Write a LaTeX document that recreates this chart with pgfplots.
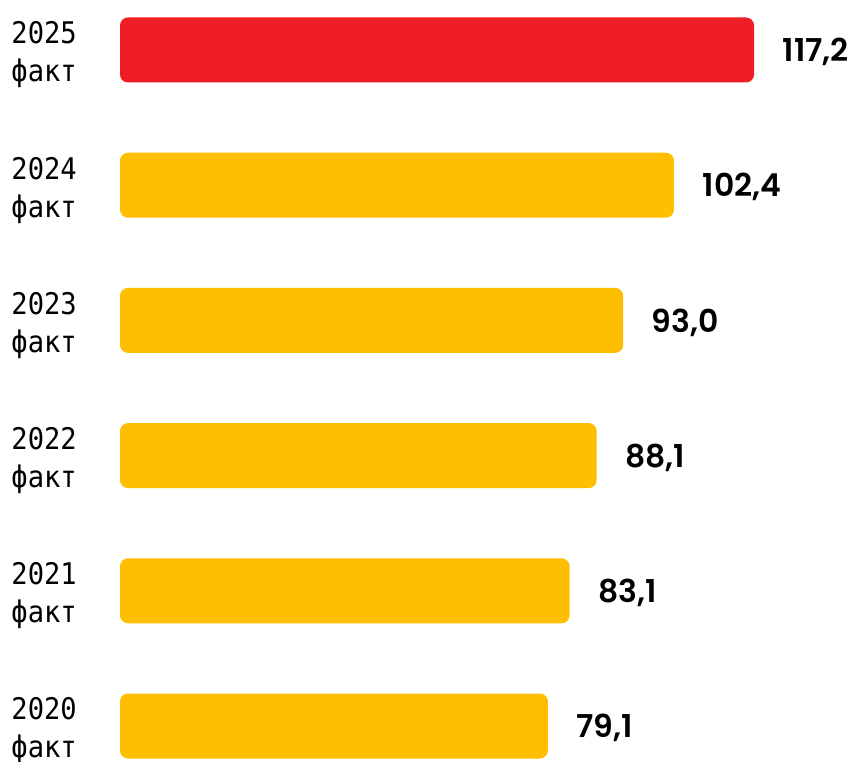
\documentclass[border=0pt]{standalone}
\usepackage{pgfplots}
\pgfplotsset{compat=1.18}
\usepackage{pgfplotstable}
\usepackage{fontspec}
\setmainfont{Liberation Sans}
\newfontfamily\yearfont{DejaVu Sans Mono}[FakeStretch=0.91]
\newfontfamily\valfont{Poppins SemiBold}
\definecolor{barred}{RGB}{239,29,37}
\definecolor{baryellow}{RGB}{255,190,0}

% i: row position (0 = 2020 at the bottom)
\pgfplotstableread{
i v lab
0 79.1 {79,1}
1 83.1 {83,1}
2 88.1 {88,1}
3 93.0 {93,0}
4 102.4 {102,4}
}\factdata
\pgfplotstableread{
i v lab
5 117.2 {117,2}
}\currentdata

\begin{document}
\begin{tikzpicture}[x=1pt,y=1pt]
\path[use as bounding box] (0,0) rectangle (856,761);
\begin{axis}[
  at={(120pt,-32.6pt)}, anchor=south west,
  scale only axis,
  x=5.41pt, y=135.2pt,
  xmin=0, xmax=125, ymin=-0.5, ymax=5.5,
  clip=false,
  axis line style={draw=none},
  xtick=\empty,
  ytick={0,1,2,3,4,5},
  yticklabels={{2020\\факт},{2021\\факт},{2022\\факт},{2023\\факт},{2024\\факт},{2025\\факт}},
  major tick length=0pt,
  yticklabel style={align=left, anchor=east, inner sep=0pt, xshift=-43pt, yshift=-5pt,
    font=\yearfont\fontsize{29.8}{38}\selectfont},
  xbar, bar width=65pt, bar shift=0pt,
  nodes near coords,
  point meta=explicit symbolic,
  every node near coord/.append style={anchor=west, inner sep=0pt, xshift=28.5pt, yshift=-2pt,
    font=\valfont\fontsize{31.5}{36}\selectfont},
]
\addplot[fill=baryellow, draw=none, rounded corners=8pt]
  table[x=v, y=i, meta=lab] {\factdata};
\addplot[fill=barred, draw=none, rounded corners=8pt]
  table[x=v, y=i, meta=lab] {\currentdata};
\end{axis}
\end{tikzpicture}
\end{document}
